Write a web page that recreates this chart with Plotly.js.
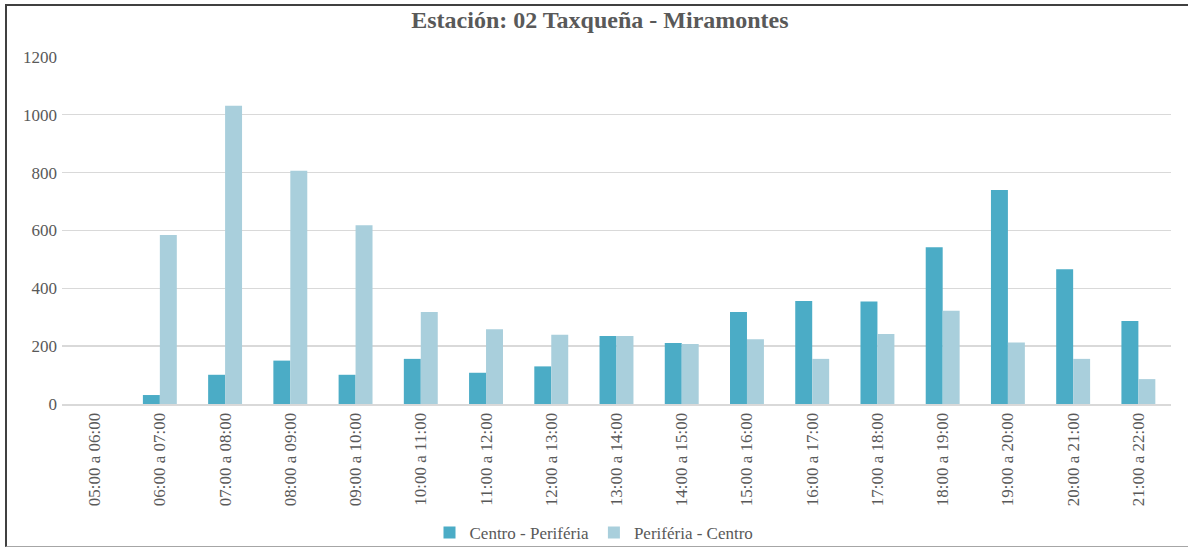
<!DOCTYPE html>
<html>
<head>
<meta charset="utf-8">
<script src="https://cdn.plot.ly/plotly-3.0.1.min.js"></script>
<style>
  html, body { margin: 0; padding: 0; background: #fff; }
  #wrap { position: relative; width: 1188px; height: 547px; }
  #chart { width: 1188px; height: 547px; }
  #frame { position: absolute; left: 5px; top: 4px; width: 1190px; height: 540px;
           border-top: 2px solid #404040; border-left: 2px solid #404040;
           border-bottom: 1px solid #a6a6a6; pointer-events: none; }
</style>
</head>
<body>
<div id="wrap">
  <div id="chart"></div>
  <div id="frame"></div>
</div>
<script>
const categories = ["05:00 a 06:00","06:00 a 07:00","07:00 a 08:00","08:00 a 09:00","09:00 a 10:00",
  "10:00 a 11:00","11:00 a 12:00","12:00 a 13:00","13:00 a 14:00","14:00 a 15:00","15:00 a 16:00",
  "16:00 a 17:00","17:00 a 18:00","18:00 a 19:00","19:00 a 20:00","20:00 a 21:00","21:00 a 22:00"];
const centroPeriferia = [0, 31, 101, 150, 101, 156, 108, 130, 235, 211, 318, 356, 354, 542, 740, 466, 287];
const periferiaCentro = [0, 584, 1031, 806, 618, 318, 258, 239, 235, 207, 224, 156, 242, 322, 213, 156, 86];
const seriesNames = ["Centro - Periféria", "Periféria - Centro"];
const titleText = "Estación: 02 Taxqueña - Miramontes";

const font = "Liberation Serif, Times New Roman, serif";
const gray = "#595959";

const traces = [
  { type: "bar", name: seriesNames[0], x: categories, y: centroPeriferia,
    marker: { color: "#4bacc6", line: { width: 0 } } },
  { type: "bar", name: seriesNames[1], x: categories, y: periferiaCentro,
    marker: { color: "#a9cfdc", line: { width: 0 } } }
];

const layout = {
  width: 1188, height: 547,
  margin: { l: 62, r: 17, t: 56, b: 143 },
  paper_bgcolor: "#ffffff", plot_bgcolor: "#ffffff",
  barmode: "group", bargap: 0.48, bargroupgap: 0,
  title: { text: "<b>" + titleText + "</b>", x: 0.505, xanchor: "center",
           y: 1 - 20 / 547, yanchor: "middle", yref: "container",
           font: { family: font, size: 24, color: gray } },
  font: { family: font, color: gray, size: 17 },
  xaxis: { type: "category", tickangle: -90, showgrid: false, showline: true,
           linecolor: "#d9d9d9", linewidth: 2, ticks: "",
           tickfont: { family: font, size: 17, color: gray }, zeroline: false },
  yaxis: { range: [0, 1203], tickvals: [0, 200, 400, 600, 800, 1000, 1200],
           showgrid: true, gridcolor: "#d9d9d9", gridwidth: 1.5,
           zeroline: false, showline: false, ticks: "", ticklabelstandoff: 4,
           tickfont: { family: font, size: 17, color: gray } },
  showlegend: true,
  legend: { orientation: "h", x: 0.5, xanchor: "center", xref: "container",
            y: 1 - 533 / 547, yanchor: "middle", yref: "container",
            font: { family: font, size: 17, color: gray }, itemwidth: 30,
            tracegroupgap: 0 }
};

Plotly.newPlot("chart", traces, layout, { displayModeBar: false, staticPlot: true });
</script>
</body>
</html>
